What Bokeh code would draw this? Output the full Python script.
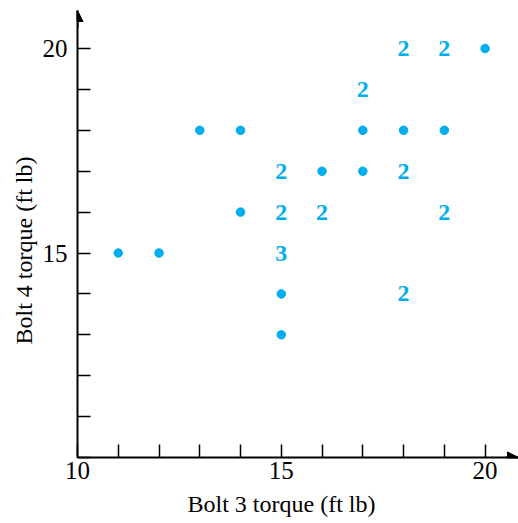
from bokeh.plotting import figure
from bokeh.models import Range1d, FixedTicker, Arrow, NormalHead, ColumnDataSource, Title
from bokeh.core.properties import value
from bokeh.embed import file_html
from bokeh.resources import INLINE

# single observations (dots)
dot_x = [11, 12, 13, 14, 14, 15, 15, 16, 17, 17, 18, 19, 20]
dot_y = [15, 15, 18, 18, 16, 14, 13, 17, 18, 17, 18, 18, 20]
# repeated observations (count shown as number)
cnt_x = [18, 19, 17, 15, 18, 15, 16, 19, 15, 18]
cnt_y = [20, 20, 19, 17, 17, 16, 16, 16, 15, 14]
cnt_n = ["2", "2", "2", "2", "2", "2", "2", "2", "3", "2"]

ticks = list(range(10, 21))
x_labels = {10: "10", 15: "15", 20: "20"}
y_labels = {15: "15", 20: "20"}
x_title = "Bolt 3 torque (ft lb)"
y_title = "Bolt 4 torque (ft lb)"

FONT = "Liberation Serif"
BLUE = "#00AEEF"

p = figure(width=518, height=523, output_backend="svg", toolbar_location=None,
           x_range=Range1d(10, 20.82), y_range=Range1d(10, 20.93),
           min_border_left=77, min_border_right=0, min_border_top=10, min_border_bottom=65)
p.outline_line_color = None
p.grid.visible = False
p.background_fill_color = "white"
p.border_fill_color = "white"

p.scatter(dot_x, dot_y, size=8.5, color=BLUE)
src = ColumnDataSource(dict(x=cnt_x, y=cnt_y, t=cnt_n))
p.text(x="x", y="y", text="t", source=src, text_align="center", text_baseline="middle",
       text_font=value(FONT), text_font_style="bold", text_font_size="24px", text_color=BLUE)

for ax, labels in ((p.xaxis[0], x_labels), (p.yaxis[0], y_labels)):
    ax.ticker = FixedTicker(ticks=ticks)
    ax.minor_tick_line_color = None
    ax.major_tick_in = 13
    ax.major_tick_out = 0
    ax.major_tick_line_width = 1.5
    ax.axis_line_width = 2
    ax.major_label_overrides = {t: labels.get(t, "") for t in ticks}
    ax.major_label_text_font = FONT
    ax.major_label_text_font_size = "25px"
    ax.major_label_text_color = "black"

p.xaxis.major_label_standoff = 4
p.yaxis.major_label_standoff = 10

# axis titles, placed as in the original (centred near 15)
p.add_layout(Title(text=x_title, align="left", offset=110, standoff=14,
                   text_line_height=0.9,
                   text_font=FONT, text_font_size="24px", text_font_style="normal",
                   text_color="black"), "below")
p.add_layout(Title(text=y_title, align="left", offset=113, standoff=6,
                   text_font=FONT, text_font_size="24px", text_font_style="normal",
                   text_color="black"), "left")

p.add_layout(Arrow(end=NormalHead(size=11, fill_color="black", line_color="black"),
                   x_start=20.5, y_start=10, x_end=20.82, y_end=10, line_width=2))
p.add_layout(Arrow(end=NormalHead(size=11, fill_color="black", line_color="black"),
                   x_start=10, y_start=20.5, x_end=10, y_end=20.93, line_width=2))

open("out.html", "w").write(file_html(p, INLINE))
